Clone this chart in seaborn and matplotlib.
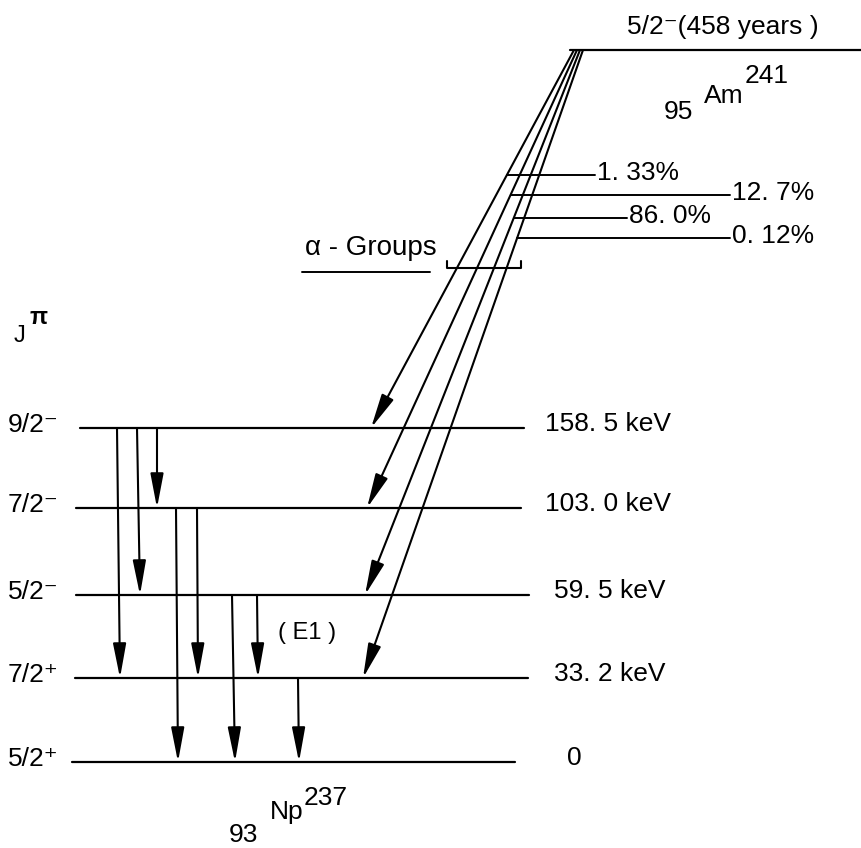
import pandas as pd
import matplotlib.pyplot as plt
import seaborn as sns

# Np-237 levels fed by Am-241 alpha decay
spins = ["9/2⁻", "7/2⁻", "5/2⁻", "7/2⁺", "5/2⁺"]
energies = ["158. 5 keV", "103. 0 keV", "59. 5 keV", "33. 2 keV", "0"]
alpha_pct = ["1. 33%", "12. 7%", "86. 0%", "0. 12%"]
alpha_to = [0, 1, 2, 3]
# gamma transitions (from level, to level)
gammas = [(0, 3), (0, 2), (0, 1), (1, 4), (1, 3), (2, 4), (2, 3), (3, 4)]

# layout (pixel-like coordinates)
level_y = [428, 508, 595, 678, 762]
level_x0 = [80, 76, 76, 75, 72]
level_x1 = [524, 521, 529, 528, 515]
label_x = [545, 545, 554, 554, 567]
gamma_x = [(117, 120), (137, 140), (157, 157), (176, 178),
           (197, 198), (232, 235), (257, 258), (298, 299)]
parent_y = 50
alpha_x0 = [574, 577, 580, 583]
alpha_x1 = [371, 367, 365, 363]
pct_y = [175, 195, 218, 238]
pct_x1 = [595, 730, 627, 730]

sns.set_style("white")
plt.rcParams["font.family"] = ["Liberation Sans", "DejaVu Sans"]
plt.rcParams["text.color"] = "black"
FS = 19

fig = plt.figure(figsize=(8.62, 8.48), dpi=100)
ax = fig.add_axes([0, 0, 1, 1])

# level lines
rows = []
for i in range(len(spins)):
    rows.append({"level": i, "x": level_x0[i], "y": level_y[i]})
    rows.append({"level": i, "x": level_x1[i], "y": level_y[i]})
rows.append({"level": 9, "x": 570, "y": parent_y})
rows.append({"level": 9, "x": 862, "y": parent_y})
df = pd.DataFrame(rows)
sns.lineplot(data=df, x="x", y="y", units="level", estimator=None, sort=False,
             color="black", lw=1.6, ax=ax)

for i in range(len(spins)):
    ax.text(8, level_y[i] - 3, spins[i], fontsize=FS, va="center", ha="left")
    ax.text(label_x[i], level_y[i] - 4, energies[i], fontsize=FS, va="center", ha="left")

arrow = dict(arrowstyle="-|>,head_length=1.05,head_width=0.2", color="black",
             lw=1.5, shrinkA=0, shrinkB=0, mutation_scale=20)

# gamma transitions
for (a, b), (xa, xb) in zip(gammas, gamma_x):
    ax.annotate("", xy=(xb, level_y[b]), xytext=(xa, level_y[a]), arrowprops=arrow)

# alpha groups
for k, lv in enumerate(alpha_to):
    x0, x1, y1 = alpha_x0[k], alpha_x1[k], level_y[lv]
    ax.annotate("", xy=(x1, y1), xytext=(x0, parent_y), arrowprops=arrow)
    yp = pct_y[k]
    xs = x0 + (x1 - x0) * (yp - parent_y) / (y1 - parent_y)
    ax.plot([xs, pct_x1[k]], [yp, yp], color="black", lw=1.4)
    ax.text(pct_x1[k] + 2, yp - 2, alpha_pct[k], fontsize=FS, va="center", ha="left")

# bracket and alpha-groups label
ax.plot([447, 447, 521, 521], [261, 268, 268, 261], color="black", lw=1.5)
ax.text(305, 248, "α - Groups", fontsize=FS + 1, va="center", ha="left")
ax.plot([302, 430], [272, 272], color="black", lw=1.4)

ax.text(278, 633, "( E1 )", fontsize=FS - 2, va="center", ha="left")

# parent
ax.text(627, 27, "5/2⁻(458 years )", fontsize=FS, va="center", ha="left")
ax.text(664, 112, "95", fontsize=FS, va="center", ha="left")
ax.text(704, 96, "Am", fontsize=FS, va="center", ha="left")
ax.text(745, 76, "241", fontsize=FS, va="center", ha="left")

# daughter
ax.text(229, 835, "93", fontsize=FS, va="center", ha="left")
ax.text(270, 812, "Np", fontsize=FS, va="center", ha="left")
ax.text(304, 798, "237", fontsize=FS, va="center", ha="left")

ax.text(14, 336, "J", fontsize=FS - 2, va="center", ha="left")
ax.text(30, 318, "π", fontsize=FS - 2, fontweight="bold", va="center", ha="left")

ax.set_xlim(0, 862)
ax.set_ylim(848, 0)
ax.axis("off")

fig.savefig("out.png", dpi=100)
